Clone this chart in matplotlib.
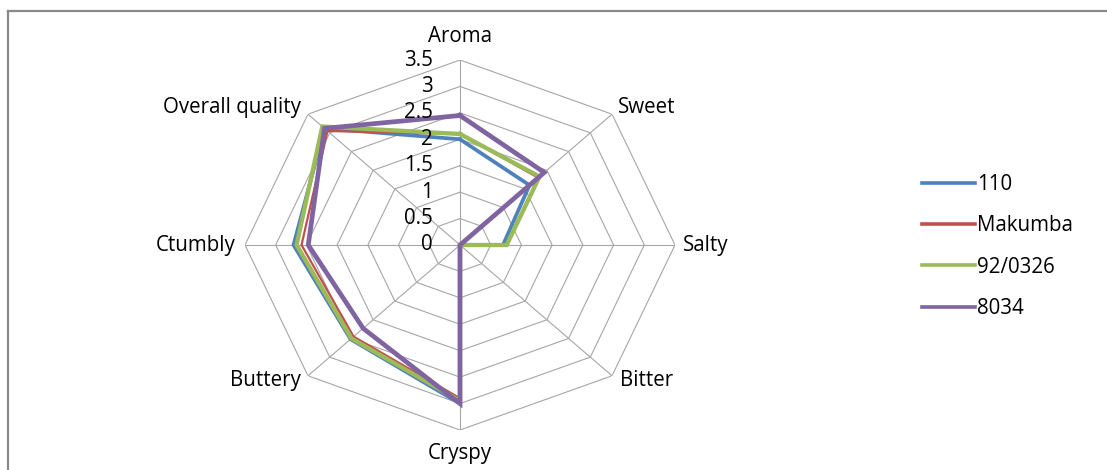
import numpy as np
import matplotlib
matplotlib.use("Agg")
import matplotlib.pyplot as plt
from matplotlib.transforms import offset_copy
from matplotlib.lines import Line2D

categories = ['Aroma', 'Sweet', 'Salty', 'Bitter', 'Cryspy', 'Buttery', 'Ctumbly', 'Overall quality']
series_names = ['110', 'Makumba', '92/0326', '8034']
v_110 = [2.0, 1.6, 0.70, 0.0, 3.0, 2.52, 2.71, 3.12]
v_makumba = [2.1, 1.8, 0.75, 0.0, 2.9, 2.45, 2.58, 3.05]
v_920326 = [2.1, 1.83, 0.76, 0.0, 2.95, 2.5, 2.66, 3.17]
v_8034 = [2.45, 1.94, 0.0, 0.0, 3.0, 2.23, 2.47, 3.12]
tick_values = [0, 0.5, 1, 1.5, 2, 2.5, 3, 3.5]
tick_labels = ['0', '0.5', '1', '1.5', '2', '2.5', '3', '3.5']

colors = ['#4F81BD', '#C0504D', '#9BBB59', '#8064A2']
widths = [2.7, 1.6, 3.1, 3.4]

plt.rcParams['font.family'] = ['Open Sans', 'DejaVu Sans']
W, H = 1107, 470
fig = plt.figure(figsize=(W / 100, H / 100), dpi=100)

cx, cy, rx, ry = 460, 245, 215, 185
ax = fig.add_axes([(cx - rx) / W, (H - cy - ry) / H, 2 * rx / W, 2 * ry / H], projection='polar')
ax.set_aspect('auto')
ax.set_theta_zero_location('N')
ax.set_theta_direction(-1)
ax.set_ylim(0, 3.5)
ax.grid(False)
ax.set_xticks([])
ax.set_yticks([])
ax.spines['polar'].set_visible(False)
ax.patch.set_visible(False)

n = len(categories)
angles = np.arange(n) * 2 * np.pi / n
closed = np.append(angles, angles[0])

grid_c = '#A6A6A6'
for r in tick_values[1:]:
    ax.plot(closed, [r] * (n + 1), color=grid_c, lw=0.8, zorder=1)
for a in angles:
    ax.plot([a, a], [0, 3.5], color=grid_c, lw=0.8, zorder=1)

for name, vals, c, lw in zip(series_names, [v_110, v_makumba, v_920326, v_8034], colors, widths):
    ax.plot(closed, vals + vals[:1], color=c, lw=lw, label=name, zorder=3,
            solid_joinstyle='miter')

fs = 14.8
tc = '#000000'
for v, lab in zip(tick_values, tick_labels):
    ax.text(0, v, lab, transform=offset_copy(ax.transData, fig=fig, x=-27, y=0, units='dots'),
            ha='right', va='center', fontsize=fs, color=tc)

label_offsets = [(0, 23, 'center', 'center'), (6, 7, 'left', 'center'), (8, 0, 'left', 'center'),
                 (8, -5, 'left', 'center'), (0, -23, 'center', 'center'), (-7, -5, 'right', 'center'),
                 (-10, 0, 'right', 'center'), (-7, 7, 'right', 'center')]
for a, lab, (dx, dy, ha, va) in zip(angles, categories, label_offsets):
    ax.text(a, 3.5, lab, transform=offset_copy(ax.transData, fig=fig, x=dx, y=dy, units='dots'),
            ha=ha, va=va, fontsize=fs, color=tc)

handles = [Line2D([0], [0], color=c, lw=2.6) for c in colors]
fig.legend(handles, series_names, loc='center left', bbox_to_anchor=(922 / W, (H - 246.5) / H),
           frameon=False, fontsize=fs, handlelength=2.6, handletextpad=0.08, labelspacing=0.99,
           borderaxespad=0, borderpad=0)

fig.add_artist(Line2D([8 / W, 8 / W], [0, 1 - 11 / H], color='#898989', lw=1.6, transform=fig.transFigure))
fig.add_artist(Line2D([8 / W, 1], [1 - 11 / H, 1 - 11 / H], color='#898989', lw=1.6, transform=fig.transFigure))

fig.savefig('out.png', dpi=100)
